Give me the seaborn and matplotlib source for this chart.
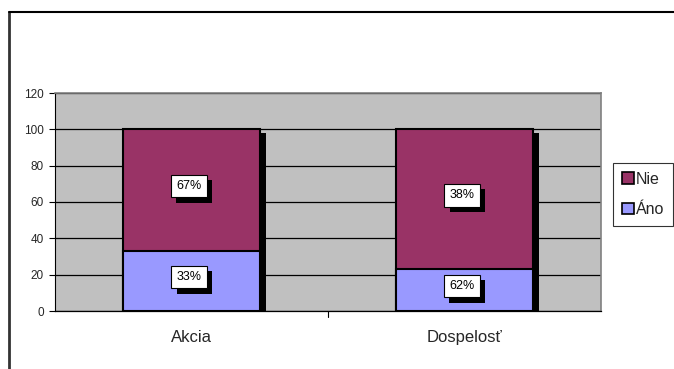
import matplotlib
matplotlib.use("Agg")
import matplotlib.pyplot as plt
import matplotlib.transforms as mtransforms
import matplotlib.patheffects as pe
from matplotlib.patches import Rectangle
from matplotlib.lines import Line2D
import seaborn as sns
import pandas as pd

# Data
categories = ["Akcia", "Dospelosť"]
ano_values = [33, 23]
nie_values = [67, 77]
ano_labels = ["33%", "62%"]
nie_labels = ["67%", "38%"]
y_ticks = [0, 20, 40, 60, 80, 100, 120]

NIE_COLOR = "#993366"
ANO_COLOR = "#9999FF"
PLOT_BG = "#C0C0C0"

sns.set_theme(style="white")
plt.rcParams["font.family"] = ["Liberation Sans", "DejaVu Sans"]

fig = plt.figure(figsize=(6.74, 3.69), dpi=100)
ax = fig.add_axes([55 / 674, 1 - 311 / 369, 546 / 674, 218 / 369])
ax.set_facecolor(PLOT_BG)

df = pd.DataFrame({
    "cat": categories,
    "ano": ano_values,
    "total": [a + n for a, n in zip(ano_values, nie_values)],
})

# Stacked bars: full height in Nie colour, Áno drawn over the bottom part
sns.barplot(data=df, x="cat", y="total", color=NIE_COLOR, width=0.5,
            saturation=1, edgecolor="black", linewidth=1.5, ax=ax, zorder=3)
sns.barplot(data=df, x="cat", y="ano", color=ANO_COLOR, width=0.5,
            saturation=1, edgecolor="black", linewidth=1.5, ax=ax, zorder=3)

# Drop shadows behind each stack
shadow_tf = mtransforms.ScaledTranslation(6 / 100, -4 / 100, fig.dpi_scale_trans)
n = len(categories)
for p in list(ax.patches)[:n]:
    sh = Rectangle((p.get_x(), p.get_y()), p.get_width(), p.get_height(),
                   facecolor="black", edgecolor="none",
                   transform=ax.transData + shadow_tf, zorder=2.5)
    sh.set_clip_path(ax.patch)
    ax.add_patch(sh)

# Value labels in white boxes with a solid drop shadow
label_tf = ax.transData + mtransforms.ScaledTranslation(-2.5 / 100, 4 / 100, fig.dpi_scale_trans)
box_shadow = [pe.SimplePatchShadow(offset=(3.8, -3.8), shadow_rgbFace="black", alpha=1.0),
              pe.Normal()]
for i in range(n):
    for y, txt in [(ano_values[i] / 2, ano_labels[i]),
                   (ano_values[i] + nie_values[i] / 2, nie_labels[i])]:
        t = ax.text(i, y, txt, ha="center", va="center", fontsize=9, color="black",
                    transform=label_tf, zorder=5,
                    bbox=dict(boxstyle="square,pad=0.42", fc="white", ec="black", lw=0.8))
        t.get_bbox_patch().set_path_effects(box_shadow)

ax.set_ylim(0, 120)
ax.set_xlim(-0.5, n - 0.5)
ax.set_yticks(y_ticks)
ax.set_yticklabels([str(t) for t in y_ticks], fontsize=8.5)
ax.yaxis.grid(True, color="black", linewidth=0.9)
ax.set_axisbelow(True)
ax.set_xticks(range(n))
ax.set_xticklabels(categories, fontsize=12)
ax.tick_params(axis="x", length=0, pad=14)
ax.tick_params(axis="y", length=4, width=0.8, color="black", left=True, pad=4)
ax.set_xlabel("")
ax.set_ylabel("")

# Category divider ticks on the x axis
for b in [i + 0.5 for i in range(n - 1)]:
    ax.plot([b, b], [0, -3.5], color="black", lw=0.8, clip_on=False)

for side in ["top", "right"]:
    ax.spines[side].set_color("#808080")
    ax.spines[side].set_linewidth(1.2)
ax.spines["left"].set_color("black")
ax.spines["left"].set_linewidth(0.8)
ax.spines["bottom"].set_color("black")
ax.spines["bottom"].set_linewidth(0.9)

# Legend
handles = [Rectangle((0, 0), 1, 1, fc=NIE_COLOR, ec="black", lw=1.2),
           Rectangle((0, 0), 1, 1, fc=ANO_COLOR, ec="black", lw=1.2)]
leg = fig.legend(handles, ["Nie", "Áno"], loc="upper left",
                 bbox_to_anchor=(613 / 674, 1 - 163 / 369),
                 bbox_transform=fig.transFigure, fontsize=11.5,
                 frameon=True, fancybox=False, handlelength=0.75, handleheight=0.75,
                 handletextpad=0.15, borderpad=0.55, labelspacing=0.95,
                 borderaxespad=0)
leg.get_frame().set_edgecolor("black")
leg.get_frame().set_linewidth(0.8)

# Outer frame of the chart area (left and top edges)
fig.add_artist(Line2D([9 / 674, 9 / 674], [0, 1 - 12 / 369],
                      transform=fig.transFigure, color="#333333", lw=2))
fig.add_artist(Line2D([9 / 674, 1], [1 - 12 / 369, 1 - 12 / 369],
                      transform=fig.transFigure, color="black", lw=1.5))

fig.savefig("out.png", dpi=100)
